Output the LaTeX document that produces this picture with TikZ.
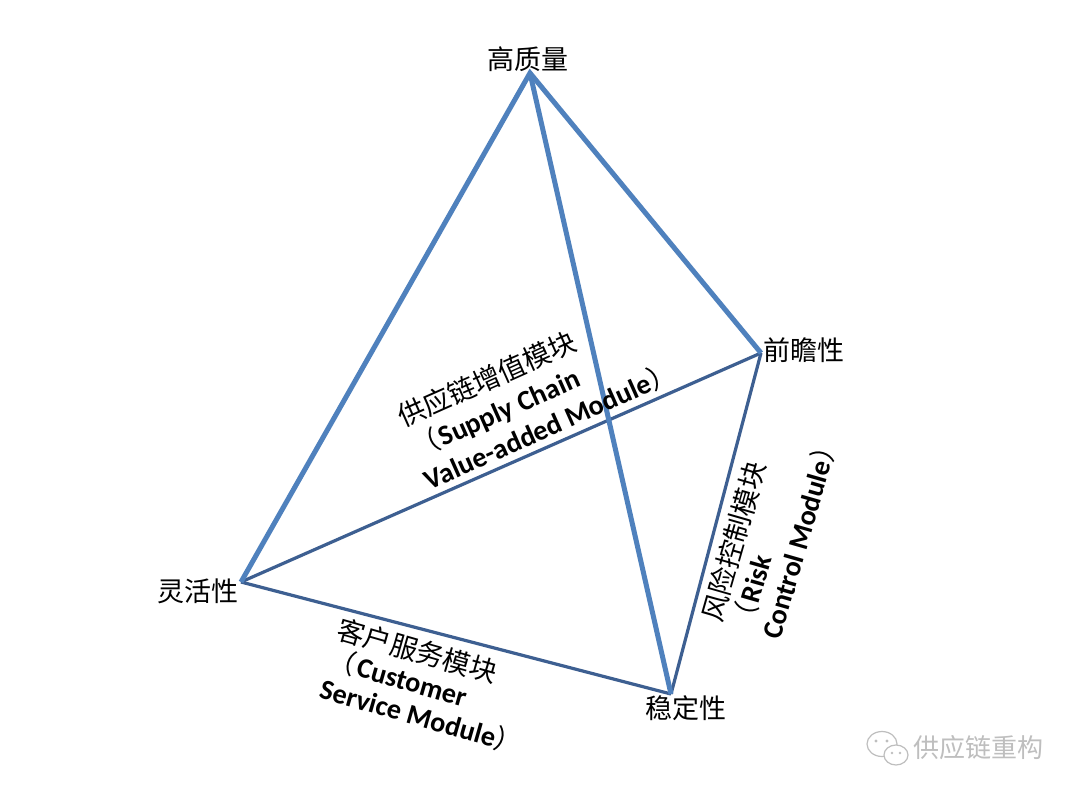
\documentclass[tikz,border=0pt]{standalone}
\usepackage{fontspec}
\setmainfont{Carlito}
\newfontfamily\cjk{Noto Sans CJK SC}
\definecolor{thickblue}{RGB}{79,129,189}
\definecolor{thinblue}{RGB}{61,95,145}
\definecolor{wmgray}{RGB}{190,190,190}
\tikzset{
  thickedge/.style={draw=thickblue,line width=5pt,line join=miter},
  thinedge/.style={draw=thinblue,line width=3.2pt},
  vlabel/.style={font=\cjk\fontsize{27}{30}\selectfont,inner sep=0pt},
  mlabel/.style={font=\fontsize{28.2}{30}\selectfont\bfseries,inner sep=0pt,anchor=base west},
}
\newcommand{\cj}[1]{{\cjk\mdseries\fontsize{27.5}{30}\selectfont #1}}
\begin{document}
\begin{tikzpicture}[x=1pt,y=-1pt]
\useasboundingbox[fill=white] (0,0) rectangle (1080,796);
% vertices
\coordinate (T) at (530,73);
\coordinate (R) at (761,353);
\coordinate (L) at (241,582);
\coordinate (B) at (671,694);
% thin edges
\draw[thinedge] (L) -- (R);
\draw[thinedge] (L) -- (B);
\draw[thinedge] (R) -- (B);
% thick edges
\draw[thickedge] (L) -- (T) -- (R);
\draw[thickedge] (T) -- (B);
% vertex labels
\node[vlabel] (tT) at (528,59) {高质量};
\node[vlabel] (tR) at (804,350) {前瞻性};
\node[vlabel] (tL) at (198,591) {灵活性};
\node[vlabel] (tB) at (686,708) {稳定性};
% supply chain label
\begin{scope}[shift={(403,428)},rotate=24]
\node[mlabel,rotate=24] (s1) at (0,0) {\cj{供应链增值模块}};
\node[mlabel,rotate=24] (s2) at (0,34) {\cj{（}\hspace{2pt}Supply Chain};
\node[mlabel,rotate=24] (s3) at (-1,68) {Value-added Module\cj{）}};
\end{scope}
% customer label
\begin{scope}[shift={(335,638)},rotate=-16]
\node[mlabel,rotate=-16] (c1) at (0,0) {\cj{客户服务模块}};
\node[mlabel,rotate=-16] (c2) at (0,31) {\cj{（}\hspace{2pt}Customer};
\node[mlabel,rotate=-16] (c3) at (0,62) {Service Module\cj{）}};
\end{scope}
% risk label
\begin{scope}[shift={(721,624)},rotate=74]
\node[mlabel,rotate=74] (r1) at (0,0) {\cj{风险控制模块}};
\node[mlabel,rotate=74] (r2) at (0,31) {\cj{（}\hspace{2pt}Risk};
\node[mlabel,rotate=74] (r3) at (0,62) {Control Module\cj{）}};
\end{scope}
% watermark
\draw[wmgray,line width=1.2pt,fill=white] (882,744) ellipse [x radius=15,y radius=12.5];
\draw[wmgray,line width=1.2pt,fill=white] (896,755) ellipse [x radius=12,y radius=10];
\fill[wmgray] (876,741) circle (1.6) (887,741) circle (1.6) (892,753) circle (1.4) (900,753) circle (1.4);
\node[font=\cjk\fontsize{26}{28}\selectfont,text=wmgray,inner sep=0pt] (wm) at (978,748) {供应链重构};
\end{tikzpicture}
\end{document}
